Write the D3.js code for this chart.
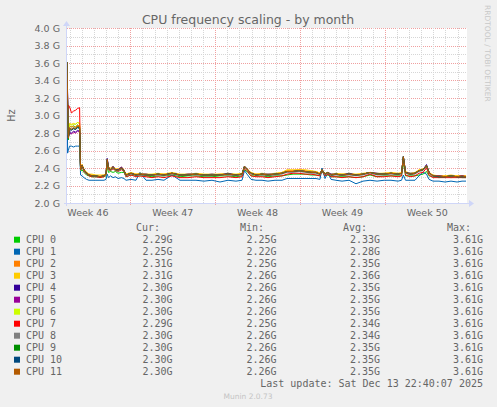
<!DOCTYPE html>
<html>
<head>
<meta charset="utf-8">
<script src="https://cdn.jsdelivr.net/npm/d3@7"></script>
<style>
  html, body { margin: 0; padding: 0; background: #f0f0f0; }
  svg { display: block; }
  text { fill: #666; }
</style>
</head>
<body>
<svg id="chart" width="497" height="407"></svg>
<script>
// series names + colours (munin palette)
const cpuNames = ['CPU 0', 'CPU 1', 'CPU 2', 'CPU 3', 'CPU 4', 'CPU 5',
    'CPU 6', 'CPU 7', 'CPU 8', 'CPU 9', 'CPU 10', 'CPU 11'];
const cpuColors = ['#00cc00', '#0066b3', '#ff8000', '#ffcc00', '#330099', '#990099',
    '#ccff00', '#ff0000', '#808080', '#008f00', '#00487d', '#b35a00'];

// legend columns
const curVals = ['2.29G', '2.25G', '2.31G', '2.31G', '2.30G', '2.30G', '2.30G', '2.29G', '2.30G', '2.30G', '2.30G', '2.30G'];
const minVals = ['2.25G', '2.22G', '2.25G', '2.26G', '2.26G', '2.26G', '2.26G', '2.25G', '2.26G', '2.26G', '2.26G', '2.26G'];
const avgVals = ['2.33G', '2.28G', '2.35G', '2.36G', '2.35G', '2.35G', '2.35G', '2.34G', '2.34G', '2.35G', '2.35G', '2.35G'];
const maxVals = ['3.61G', '3.61G', '3.61G', '3.61G', '3.61G', '3.61G', '3.61G', '3.61G', '3.61G', '3.61G', '3.61G', '3.61G'];

// sample times, days after graph start
const days = [0, 0.05, 0.11, 0.21, 0.37, 0.54, 0.70, 0.87, 1.04,
    1.12, 1.24, 1.40, 1.61, 1.82, 2.06, 2.39, 2.72, 3.05,
    3.22, 3.32, 3.42, 3.59, 3.80, 4.00, 4.21, 4.50, 4.70, 4.87,
    5.28, 5.69, 6.02, 6.52, 7.01, 7.51, 8.00, 8.66, 9.32, 9.98, 10.64, 11.30, 11.96, 12.62, 13.28, 13.94,
    14.44, 14.64, 14.85, 15.18, 15.59, 16.09, 16.58, 17.16, 17.74,
    18.15, 18.65, 19.14, 19.64, 20.13, 20.54, 20.87, 21.04, 21.29, 21.53, 21.78,
    22.19, 22.69, 23.27, 23.84, 24.42, 25.00, 25.58, 26.16, 26.73, 27.31,
    27.60, 27.75, 27.93, 28.30, 28.71, 29.04, 29.37, 29.66, 29.87,
    30.20, 30.69, 31.19, 31.68, 32.18, 32.59, 32.92];

// GHz per CPU
const cpu0 = [3.61, 3.00, 2.72, 2.88, 2.87, 2.88, 2.87, 2.89, 2.88,
    2.36, 2.38, 2.35, 2.32, 2.31, 2.30, 2.30, 2.30, 2.30,
    2.31, 2.42, 2.35, 2.36, 2.35, 2.36, 2.34, 2.35, 2.35, 2.30,
    2.32, 2.31, 2.31, 2.31, 2.30, 2.31, 2.31, 2.32, 2.30, 2.31, 2.31, 2.30, 2.30, 2.31, 2.31, 2.30,
    2.31, 2.38, 2.36, 2.31, 2.31, 2.31, 2.30, 2.31, 2.31,
    2.32, 2.33, 2.33, 2.33, 2.32, 2.32, 2.31, 2.36, 2.31, 2.32, 2.30,
    2.30, 2.30, 2.30, 2.29, 2.30, 2.32, 2.30, 2.31, 2.31, 2.31,
    2.31, 2.46, 2.31, 2.31, 2.31, 2.32, 2.33, 2.36, 2.31,
    2.30, 2.29, 2.30, 2.29, 2.30, 2.29, 2.29];
const cpu1 = [3.61, 2.57, 2.60, 2.65, 2.65, 2.64, 2.65, 2.65, 2.65,
    2.32, 2.31, 2.29, 2.27, 2.26, 2.26, 2.26, 2.26, 2.26,
    2.27, 2.33, 2.29, 2.31, 2.29, 2.30, 2.28, 2.29, 2.28, 2.26,
    2.27, 2.26, 2.35, 2.26, 2.26, 2.27, 2.26, 2.32, 2.26, 2.26, 2.26, 2.25, 2.26, 2.24, 2.26, 2.25,
    2.26, 2.37, 2.33, 2.27, 2.26, 2.26, 2.25, 2.26, 2.26,
    2.28, 2.28, 2.28, 2.28, 2.28, 2.28, 2.27, 2.40, 2.28, 2.35, 2.27,
    2.26, 2.25, 2.26, 2.22, 2.25, 2.26, 2.25, 2.26, 2.26, 2.25,
    2.26, 2.32, 2.26, 2.26, 2.26, 2.31, 2.35, 2.33, 2.27,
    2.25, 2.25, 2.24, 2.25, 2.24, 2.25, 2.25];
const cpu2 = [3.61, 3.10, 2.78, 2.88, 2.87, 2.88, 2.86, 2.89, 2.88,
    2.39, 2.44, 2.38, 2.35, 2.33, 2.32, 2.31, 2.31, 2.32,
    2.33, 2.49, 2.40, 2.39, 2.41, 2.39, 2.38, 2.40, 2.37, 2.33,
    2.34, 2.33, 2.33, 2.33, 2.32, 2.33, 2.33, 2.34, 2.32, 2.33, 2.33, 2.32, 2.32, 2.33, 2.33, 2.32,
    2.33, 2.41, 2.39, 2.34, 2.33, 2.33, 2.32, 2.33, 2.35,
    2.37, 2.37, 2.38, 2.37, 2.36, 2.36, 2.34, 2.38, 2.33, 2.35, 2.32,
    2.33, 2.33, 2.33, 2.32, 2.33, 2.35, 2.33, 2.34, 2.34, 2.33,
    2.34, 2.52, 2.35, 2.33, 2.34, 2.37, 2.39, 2.42, 2.35,
    2.31, 2.31, 2.31, 2.31, 2.31, 2.31, 2.31];
const cpu3 = [3.61, 3.15, 2.80, 2.91, 2.90, 2.91, 2.90, 2.92, 2.91,
    2.40, 2.44, 2.39, 2.35, 2.33, 2.33, 2.32, 2.32, 2.32,
    2.34, 2.48, 2.41, 2.40, 2.42, 2.39, 2.39, 2.41, 2.38, 2.33,
    2.35, 2.33, 2.34, 2.33, 2.33, 2.34, 2.33, 2.35, 2.33, 2.33, 2.34, 2.33, 2.33, 2.33, 2.34, 2.33,
    2.34, 2.41, 2.39, 2.35, 2.33, 2.34, 2.33, 2.34, 2.35,
    2.38, 2.38, 2.38, 2.38, 2.37, 2.36, 2.34, 2.38, 2.34, 2.35, 2.33,
    2.34, 2.33, 2.34, 2.33, 2.34, 2.35, 2.34, 2.34, 2.35, 2.34,
    2.35, 2.51, 2.36, 2.34, 2.35, 2.38, 2.39, 2.42, 2.35,
    2.32, 2.31, 2.31, 2.32, 2.31, 2.31, 2.31];
const cpu4 = [3.61, 3.25, 2.76, 2.82, 2.80, 2.82, 2.81, 2.83, 2.82,
    2.38, 2.43, 2.38, 2.34, 2.32, 2.31, 2.31, 2.30, 2.31,
    2.33, 2.51, 2.41, 2.38, 2.42, 2.38, 2.38, 2.41, 2.37, 2.32,
    2.34, 2.32, 2.33, 2.33, 2.32, 2.33, 2.32, 2.34, 2.32, 2.33, 2.33, 2.32, 2.33, 2.32, 2.34, 2.32,
    2.33, 2.42, 2.38, 2.34, 2.32, 2.33, 2.33, 2.33, 2.34,
    2.36, 2.36, 2.37, 2.36, 2.35, 2.35, 2.33, 2.38, 2.33, 2.35, 2.33,
    2.33, 2.32, 2.34, 2.32, 2.33, 2.35, 2.34, 2.33, 2.34, 2.33,
    2.34, 2.53, 2.35, 2.34, 2.34, 2.37, 2.38, 2.44, 2.35,
    2.31, 2.31, 2.30, 2.31, 2.30, 2.31, 2.30];
const cpu5 = [3.61, 3.22, 2.75, 2.80, 2.79, 2.81, 2.80, 2.82, 2.81,
    2.38, 2.43, 2.38, 2.34, 2.32, 2.31, 2.31, 2.30, 2.31,
    2.33, 2.50, 2.41, 2.38, 2.41, 2.38, 2.37, 2.41, 2.37, 2.32,
    2.34, 2.32, 2.33, 2.32, 2.32, 2.33, 2.32, 2.34, 2.32, 2.32, 2.33, 2.32, 2.32, 2.32, 2.33, 2.32,
    2.33, 2.42, 2.39, 2.34, 2.32, 2.33, 2.32, 2.33, 2.34,
    2.36, 2.36, 2.37, 2.36, 2.35, 2.35, 2.33, 2.38, 2.33, 2.35, 2.32,
    2.33, 2.32, 2.33, 2.32, 2.33, 2.35, 2.33, 2.33, 2.34, 2.33,
    2.34, 2.53, 2.35, 2.33, 2.34, 2.37, 2.38, 2.43, 2.35,
    2.31, 2.31, 2.30, 2.31, 2.30, 2.31, 2.30];
const cpu6 = [3.61, 3.05, 2.78, 2.90, 2.89, 2.90, 2.90, 2.92, 2.91,
    2.37, 2.42, 2.37, 2.34, 2.32, 2.31, 2.31, 2.30, 2.31,
    2.32, 2.47, 2.39, 2.37, 2.40, 2.37, 2.37, 2.39, 2.36, 2.32,
    2.33, 2.32, 2.33, 2.32, 2.32, 2.33, 2.32, 2.33, 2.32, 2.32, 2.33, 2.32, 2.32, 2.32, 2.33, 2.32,
    2.33, 2.41, 2.38, 2.33, 2.32, 2.33, 2.32, 2.33, 2.34,
    2.36, 2.36, 2.37, 2.36, 2.35, 2.35, 2.33, 2.38, 2.33, 2.34, 2.32,
    2.33, 2.32, 2.33, 2.32, 2.33, 2.35, 2.33, 2.33, 2.34, 2.33,
    2.34, 2.52, 2.34, 2.33, 2.34, 2.37, 2.38, 2.42, 2.34,
    2.31, 2.30, 2.30, 2.31, 2.30, 2.30, 2.30];
const cpu7 = [3.61, 3.00, 3.12, 3.10, 3.03, 3.05, 3.06, 3.08, 3.09,
    2.38, 2.42, 2.36, 2.33, 2.31, 2.30, 2.30, 2.29, 2.30,
    2.32, 2.46, 2.38, 2.37, 2.39, 2.37, 2.36, 2.38, 2.36, 2.30,
    2.32, 2.30, 2.31, 2.30, 2.29, 2.30, 2.29, 2.31, 2.29, 2.29, 2.30, 2.29, 2.29, 2.29, 2.30, 2.29,
    2.30, 2.40, 2.37, 2.31, 2.30, 2.30, 2.29, 2.30, 2.31,
    2.33, 2.34, 2.34, 2.33, 2.33, 2.32, 2.31, 2.37, 2.31, 2.33, 2.30,
    2.30, 2.29, 2.30, 2.29, 2.30, 2.33, 2.30, 2.30, 2.31, 2.30,
    2.31, 2.50, 2.32, 2.30, 2.31, 2.34, 2.35, 2.40, 2.32,
    2.29, 2.29, 2.29, 2.29, 2.29, 2.29, 2.29];
const cpu8 = [3.61, 3.10, 2.74, 2.86, 2.85, 2.86, 2.85, 2.87, 2.86,
    2.37, 2.42, 2.37, 2.33, 2.32, 2.31, 2.30, 2.30, 2.31,
    2.32, 2.48, 2.39, 2.37, 2.40, 2.37, 2.36, 2.39, 2.36, 2.31,
    2.33, 2.31, 2.32, 2.32, 2.31, 2.32, 2.31, 2.33, 2.31, 2.32, 2.32, 2.31, 2.31, 2.32, 2.32, 2.31,
    2.32, 2.41, 2.38, 2.33, 2.32, 2.32, 2.31, 2.32, 2.33,
    2.35, 2.35, 2.36, 2.35, 2.34, 2.34, 2.32, 2.38, 2.32, 2.34, 2.31,
    2.32, 2.31, 2.32, 2.31, 2.32, 2.34, 2.32, 2.32, 2.33, 2.32,
    2.33, 2.52, 2.34, 2.32, 2.33, 2.36, 2.37, 2.42, 2.34,
    2.30, 2.30, 2.30, 2.30, 2.30, 2.30, 2.30];
const cpu9 = [3.61, 3.15, 2.73, 2.85, 2.84, 2.85, 2.84, 2.87, 2.86,
    2.38, 2.43, 2.38, 2.34, 2.32, 2.31, 2.31, 2.30, 2.31,
    2.33, 2.49, 2.40, 2.38, 2.41, 2.38, 2.37, 2.40, 2.37, 2.32,
    2.34, 2.32, 2.33, 2.32, 2.32, 2.33, 2.32, 2.34, 2.32, 2.32, 2.33, 2.32, 2.32, 2.32, 2.33, 2.32,
    2.33, 2.42, 2.39, 2.34, 2.32, 2.33, 2.32, 2.33, 2.34,
    2.36, 2.36, 2.37, 2.36, 2.35, 2.35, 2.33, 2.38, 2.33, 2.35, 2.32,
    2.33, 2.32, 2.33, 2.32, 2.33, 2.35, 2.33, 2.33, 2.34, 2.33,
    2.34, 2.53, 2.35, 2.33, 2.34, 2.37, 2.38, 2.43, 2.35,
    2.31, 2.30, 2.30, 2.31, 2.30, 2.30, 2.30];
const cpu10 = [3.61, 3.18, 2.75, 2.84, 2.83, 2.85, 2.84, 2.86, 2.85,
    2.38, 2.43, 2.38, 2.34, 2.32, 2.31, 2.31, 2.30, 2.31,
    2.33, 2.50, 2.40, 2.38, 2.41, 2.38, 2.37, 2.40, 2.37, 2.32,
    2.34, 2.32, 2.33, 2.32, 2.32, 2.33, 2.32, 2.34, 2.32, 2.32, 2.33, 2.32, 2.32, 2.32, 2.33, 2.32,
    2.33, 2.42, 2.39, 2.34, 2.32, 2.33, 2.32, 2.33, 2.34,
    2.36, 2.36, 2.37, 2.36, 2.35, 2.35, 2.33, 2.38, 2.33, 2.35, 2.32,
    2.33, 2.32, 2.33, 2.32, 2.33, 2.35, 2.33, 2.33, 2.34, 2.33,
    2.34, 2.53, 2.35, 2.33, 2.34, 2.37, 2.38, 2.43, 2.35,
    2.31, 2.30, 2.30, 2.31, 2.30, 2.30, 2.30];
const cpu11 = [3.61, 3.20, 2.74, 2.86, 2.84, 2.86, 2.85, 2.88, 2.87,
    2.38, 2.43, 2.38, 2.34, 2.32, 2.31, 2.31, 2.30, 2.31,
    2.33, 2.50, 2.40, 2.38, 2.41, 2.38, 2.37, 2.40, 2.37, 2.32,
    2.34, 2.32, 2.33, 2.32, 2.32, 2.33, 2.32, 2.34, 2.32, 2.32, 2.33, 2.32, 2.32, 2.32, 2.33, 2.32,
    2.33, 2.42, 2.39, 2.34, 2.32, 2.33, 2.32, 2.33, 2.34,
    2.36, 2.36, 2.37, 2.36, 2.35, 2.35, 2.33, 2.38, 2.33, 2.35, 2.32,
    2.33, 2.32, 2.33, 2.32, 2.33, 2.35, 2.33, 2.33, 2.34, 2.33,
    2.34, 2.53, 2.35, 2.33, 2.34, 2.37, 2.38, 2.43, 2.35,
    2.31, 2.31, 2.30, 2.31, 2.30, 2.31, 2.30];

const series = [cpu0, cpu1, cpu2, cpu3, cpu4, cpu5, cpu6, cpu7, cpu8, cpu9, cpu10, cpu11];

const yTicks = [2.0, 2.2, 2.4, 2.6, 2.8, 3.0, 3.2, 3.4, 3.6, 3.8, 4.0];

const DAY = 864e5;
const tStart = Date.UTC(2025, 10, 10, 18, 40);
const tEnd = tStart + 33 * DAY;

const plot = { left: 67, right: 467, top: 28, bottom: 203 };
const gridMinor = '#d6d6d6';
const gridMajor = '#f0a0a0';
const axisCol = '#cfd6f8';

const svg = d3.select('#chart');

const xScale = d3.scaleUtc()
    .domain([new Date(tStart), new Date(tEnd)])
    .range([plot.left, plot.right]);
const yScale = d3.scaleLinear()
    .domain([2.0, 4.0])
    .range([plot.bottom, plot.top]);

// canvas
svg.append('rect')
    .attr('x', plot.left).attr('y', plot.top)
    .attr('width', plot.right - plot.left).attr('height', plot.bottom - plot.top)
    .attr('fill', '#fff');

const grid = svg.append('g').attr('shape-rendering', 'crispEdges');

// horizontal grid, every 0.1 G, red on the labelled ones
const hLines = d3.range(21).map(i => 2.0 + i * 0.1);
grid.selectAll('.hgrid')
    .data(hLines)
    .join('line')
    .attr('class', 'hgrid')
    .attr('x1', plot.left).attr('x2', plot.right)
    .attr('y1', d => Math.round(yScale(d)) + 0.5)
    .attr('y2', d => Math.round(yScale(d)) + 0.5)
    .attr('stroke', (d, i) => i % 2 === 0 ? gridMajor : gridMinor)
    .attr('stroke-dasharray', '1,1');

// vertical grid: days minor, weeks (sunday) major
const dayLines = d3.utcDay.range(new Date(tStart), new Date(tEnd));
const weekLines = d3.utcSunday.range(new Date(tStart), new Date(tEnd));
grid.selectAll('.vminor')
    .data(dayLines)
    .join('line')
    .attr('class', 'vminor')
    .attr('x1', d => Math.round(xScale(d)) + 0.5)
    .attr('x2', d => Math.round(xScale(d)) + 0.5)
    .attr('y1', plot.top).attr('y2', plot.bottom)
    .attr('stroke', gridMinor)
    .attr('stroke-dasharray', '1,1');
grid.selectAll('.vmajor')
    .data(weekLines)
    .join('line')
    .attr('class', 'vmajor')
    .attr('x1', d => Math.round(xScale(d)) + 0.5)
    .attr('x2', d => Math.round(xScale(d)) + 0.5)
    .attr('y1', plot.top).attr('y2', plot.bottom + 3)
    .attr('stroke', gridMajor)
    .attr('stroke-dasharray', '1,1');

// lines
const line = d3.line()
    .x((d, i) => xScale(new Date(tStart + days[i] * DAY)))
    .y(d => yScale(d));

svg.append('g')
    .attr('clip-path', null)
    .selectAll('path')
    .data(series)
    .join('path')
    .attr('d', d => line(d))
    .attr('fill', 'none')
    .attr('stroke', (d, i) => cpuColors[i])
    .attr('stroke-width', 1)
    .attr('stroke-linejoin', 'miter');

// axes with arrows
const ax = svg.append('g');
ax.append('line')
    .attr('x1', plot.left - 3).attr('x2', plot.right + 2)
    .attr('y1', plot.bottom + 0.5).attr('y2', plot.bottom + 0.5)
    .attr('stroke', axisCol).attr('shape-rendering', 'crispEdges');
ax.append('line')
    .attr('x1', plot.left - 0.5).attr('x2', plot.left - 0.5)
    .attr('y1', plot.bottom + 3).attr('y2', plot.top - 4)
    .attr('stroke', axisCol).attr('shape-rendering', 'crispEdges');
ax.append('path')
    .attr('d', `M${plot.right + 2},${plot.bottom - 3} L${plot.right + 7},${plot.bottom + 0.5} L${plot.right + 2},${plot.bottom + 4} Z`)
    .attr('fill', axisCol);
ax.append('path')
    .attr('d', `M${plot.left - 4},${plot.top - 2} L${plot.left - 0.5},${plot.top - 7} L${plot.left + 3},${plot.top - 2} Z`)
    .attr('fill', axisCol);

// y labels
svg.append('g')
    .selectAll('text')
    .data(yTicks)
    .join('text')
    .attr('x', 60)
    .attr('y', d => yScale(d) + 3.5)
    .attr('text-anchor', 'end')
    .style('font', '9.5px "DejaVu Sans"')
    .text(d => d3.format('.1f')(d) + ' G');

// x labels: middle of each week
const weekFmt = d3.utcFormat('Week %V');
const labelTimes = d3.utcSunday.range(new Date(tStart - 7 * DAY), new Date(tEnd))
    .map(d => new Date(+d + 3.5 * DAY))
    .filter(d => d >= tStart && d <= tEnd);
svg.append('g')
    .selectAll('text')
    .data(labelTimes)
    .join('text')
    .attr('x', d => xScale(d))
    .attr('y', 216)
    .attr('text-anchor', 'middle')
    .style('font', '9.5px "DejaVu Sans"')
    .text(d => weekFmt(d));

// title, unit, watermarks
svg.append('text')
    .attr('x', 248).attr('y', 24)
    .attr('text-anchor', 'middle')
    .style('font', '12.5px "DejaVu Sans"')
    .text('CPU frequency scaling - by month');

svg.append('text')
    .attr('transform', `translate(15,${(plot.top + plot.bottom) / 2}) rotate(-90)`)
    .attr('text-anchor', 'middle')
    .style('font', '9.7px "DejaVu Sans"')
    .text('Hz');

svg.append('text')
    .attr('transform', 'translate(484.5,5) rotate(90)')
    .style('font', '7.5px "DejaVu Sans"')
    .style('fill', '#c8c8c8')
    .text('RRDTOOL / TOBI OETIKER');

svg.append('text')
    .attr('x', 248).attr('y', 399)
    .attr('text-anchor', 'middle')
    .style('font', '7.5px "DejaVu Sans"')
    .style('fill', '#c4c4c4')
    .text('Munin 2.0.73');

// legend
const mono = '10px "DejaVu Sans Mono"';
const legend = svg.append('g');
const heads = [['Cur:', 136], ['Min:', 240], ['Avg:', 343], ['Max:', 447]];
legend.selectAll('.head')
    .data(heads)
    .join('text')
    .attr('class', 'head')
    .attr('x', d => d[1]).attr('y', 231)
    .style('font', mono)
    .text(d => d[0]);

const rows = legend.selectAll('.row')
    .data(cpuNames)
    .join('g')
    .attr('class', 'row')
    .attr('transform', (d, i) => `translate(0,${243 + i * 12})`);
rows.append('rect')
    .attr('x', 14).attr('y', -6.3)
    .attr('width', 6).attr('height', 6)
    .attr('fill', (d, i) => cpuColors[i]);
rows.append('text')
    .attr('x', 26)
    .style('font', mono)
    .text(d => d);
const cols = [[curVals, 172.5], [minVals, 276.5], [avgVals, 380], [maxVals, 483]];
cols.forEach(([vals, xEnd]) => {
    rows.append('text')
        .attr('x', xEnd)
        .attr('text-anchor', 'end')
        .style('font', mono)
        .text((d, i) => vals[i]);
});

legend.append('text')
    .attr('x', 483).attr('y', 387)
    .attr('text-anchor', 'end')
    .style('font', mono)
    .text('Last update: Sat Dec 13 22:40:07 2025');
</script>
</body>
</html>
